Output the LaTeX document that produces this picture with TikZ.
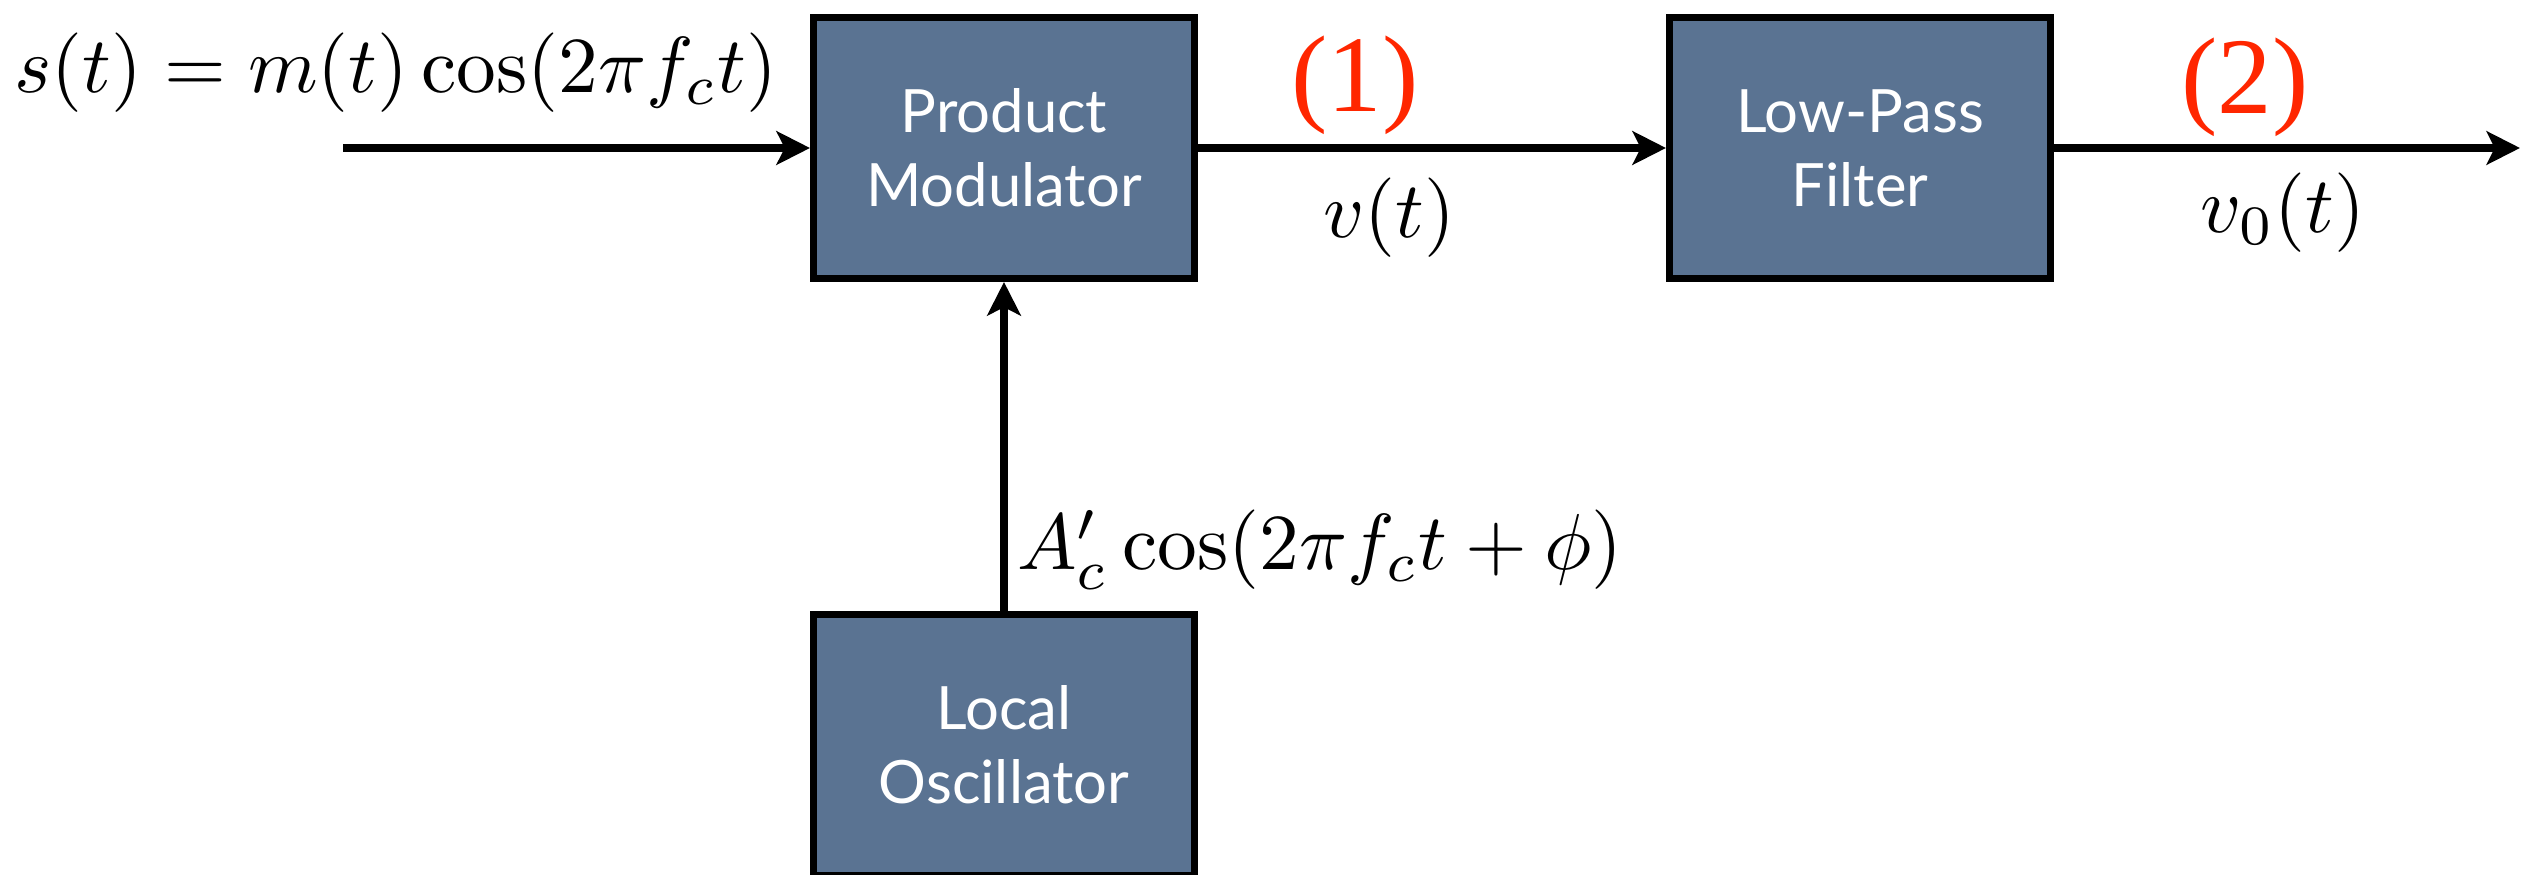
\documentclass[tikz,border=0pt]{standalone}
\usepackage{fontspec}
\newfontfamily\boxfont{Lato}
\newfontfamily\tagfont{Liberation Serif}
\usetikzlibrary{arrows.meta, positioning}
\definecolor{slate}{HTML}{5A7392}
\definecolor{marker}{HTML}{FF2600}

\begin{document}
\begin{tikzpicture}[x=1cm, y=1cm,
    block/.style={draw=black, line width=2pt, fill=slate, minimum width=3.81cm, minimum height=2.61cm, inner sep=0pt, align=center, text=white, font=\boxfont\fontsize{17}{21}\selectfont},
    sig/.style={-{Stealth[length=9.5pt, width=9.5pt, inset=2.3pt]}, line width=2pt},
    eq/.style={scale=2.26, inner sep=1pt},
    tag/.style={text=marker, font=\tagfont\fontsize{31}{36}\selectfont}]
      \useasboundingbox (0, 0) rectangle (25.36, 8.74);
      \node[block] (pm) at (10.04, 7.26) {Product\\Modulator};
      \node[block] (lpf) at (18.60, 7.26) {Low-Pass\\Filter};
      \node[block] (lo) at (10.04, 1.29) {Local\\Oscillator};
      \coordinate (in) at (3.43, 7.26);
      \coordinate (out) at (25.20, 7.26);
      \draw[sig] (in) -- (pm);
      \draw[sig] (pm) -- (lpf);
      \draw[sig] (lpf) -- (out);
      \draw[sig] (lo) -- (pm);
      \node[eq] (st) at (3.96, 8.01) {$s(t) = m(t)\cos(2\pi f_c t)$};
      \node[tag] (one) at (13.55, 7.89) {(1)};
      \node[eq] (vt) at (13.89, 6.56) {$v(t)$};
      \node[tag] (two) at (22.45, 7.87) {(2)};
      \node[eq] (vo) at (22.83, 6.61) {$v_0(t)$};
      \node[eq] (car) at (13.20, 3.24) {$A_c' \cos(2\pi f_c t + \phi)$};
    \end{tikzpicture}
\end{document}
